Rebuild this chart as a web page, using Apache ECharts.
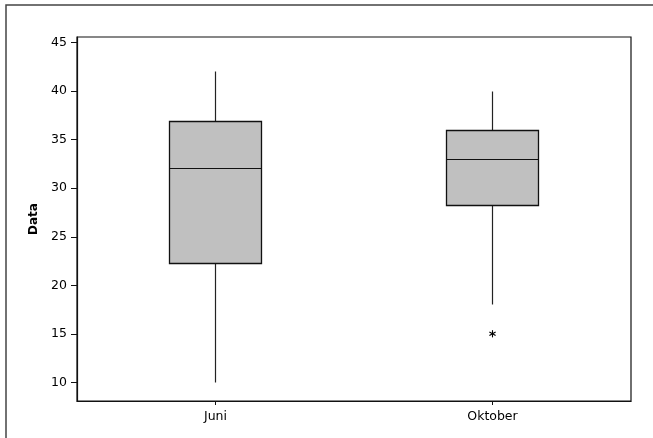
<!DOCTYPE html>
<html>
<head>
<meta charset="utf-8">
<script src="https://cdn.jsdelivr.net/npm/echarts@6/dist/echarts.min.js"></script>
<style>
html,body{margin:0;padding:0;background:#fff;}
#chart{width:653px;height:438px;}
</style>
</head>
<body>
<div id="chart"></div>
<script>
// ---- data ----
const categories = ['Juni', 'Oktober'];
const whiskerLow = [10, 18];
const quartile1 = [22.2, 28.2];
const medians = [32, 33];
const quartile3 = [36.9, 36];
const whiskerHigh = [42, 40];
const outlierCategory = ['Oktober'];
const outlierValue = [15];
const yTickLabels = [10, 15, 20, 25, 30, 35, 40, 45];
const yAxisName = 'Data';

const boxData = categories.map((c, i) => [i, whiskerLow[i], quartile1[i], medians[i], quartile3[i], whiskerHigh[i]]);
const outlierData = outlierCategory.map((c, i) => [categories.indexOf(c), outlierValue[i]]);

const FONT = 'DejaVu Sans';
const chart = echarts.init(document.getElementById('chart'), null, {renderer: 'canvas'});

function px(v) { return Math.round(v - 0.5) + 0.5; }

const option = {
  animation: false,
  backgroundColor: '#fff',
  graphic: [{
    type: 'rect',
    shape: {x: 6, y: 5, width: 700, height: 500},
    style: {fill: 'none', stroke: '#444', lineWidth: 1.5},
    silent: true
  }],
  grid: {
    left: 77, top: 37, right: 22, bottom: 37,
    show: true, borderColor: '#111', borderWidth: 1.2, backgroundColor: 'transparent'
  },
  xAxis: {
    type: 'category',
    data: categories,
    boundaryGap: true,
    axisLine: {show: true, lineStyle: {color: '#111', width: 1.2}},
    axisTick: {show: true, alignWithLabel: true, length: 4, lineStyle: {color: '#111'}},
    axisLabel: {color: '#000', fontFamily: FONT, fontSize: 12.5, margin: 9},
    splitLine: {show: false}
  },
  yAxis: {
    type: 'value',
    min: 8.073,
    max: 45.587,
    name: yAxisName,
    nameLocation: 'middle',
    nameGap: 36,
    nameTextStyle: {color: '#000', fontFamily: FONT, fontSize: 12, fontWeight: 'bold'},
    axisLine: {show: true, lineStyle: {color: '#111', width: 1.2}},
    axisTick: {show: true, length: 6, customValues: yTickLabels, lineStyle: {color: '#111'}},
    axisLabel: {color: '#000', fontFamily: FONT, fontSize: 12.5, margin: 10, customValues: yTickLabels},
    splitLine: {show: false}
  },
  series: [{
    type: 'custom',
    data: boxData,
    encode: {x: 0, y: [1, 2, 3, 4, 5]},
    renderItem: function (params, api) {
      const xi = api.value(0);
      const pLow = api.coord([xi, api.value(1)]);
      const pQ1 = api.coord([xi, api.value(2)]);
      const pMed = api.coord([xi, api.value(3)]);
      const pQ3 = api.coord([xi, api.value(4)]);
      const pHigh = api.coord([xi, api.value(5)]);
      const bw = api.size([1, 0])[0] * 0.334;
      const cx = px(pLow[0]);
      const left = px(pLow[0] - bw / 2);
      const right = px(pLow[0] + bw / 2);
      const top = px(pQ3[1]);
      const bot = px(pQ1[1]);
      const med = px(pMed[1]);
      const wStyle = {stroke: '#222', lineWidth: 1.2};
      return {
        type: 'group',
        children: [
          {type: 'line', shape: {x1: cx, y1: px(pHigh[1]), x2: cx, y2: top}, style: wStyle},
          {type: 'line', shape: {x1: cx, y1: bot, x2: cx, y2: px(pLow[1])}, style: wStyle},
          {type: 'rect', shape: {x: left, y: top, width: right - left, height: bot - top},
           style: {fill: '#c0c0c0', stroke: '#111', lineWidth: 1.3}},
          {type: 'line', shape: {x1: left, y1: med, x2: right, y2: med}, style: {stroke: '#111', lineWidth: 1.2}}
        ]
      };
    }
  }, {
    type: 'custom',
    data: outlierData,
    encode: {x: 0, y: 1},
    renderItem: function (params, api) {
      const p = api.coord([api.value(0), api.value(1)]);
      const r = 3.6;
      const s = {stroke: '#000', lineWidth: 1.1};
      const dx = r * Math.sin(Math.PI / 3), dy = r * Math.cos(Math.PI / 3);
      return {
        type: 'group',
        children: [
          {type: 'line', shape: {x1: p[0], y1: p[1] - r, x2: p[0], y2: p[1] + r}, style: s},
          {type: 'line', shape: {x1: p[0] - dx, y1: p[1] - dy, x2: p[0] + dx, y2: p[1] + dy}, style: s},
          {type: 'line', shape: {x1: p[0] - dx, y1: p[1] + dy, x2: p[0] + dx, y2: p[1] - dy}, style: s}
        ]
      };
    }
  }]
};
chart.setOption(option);
</script>
</body>
</html>
